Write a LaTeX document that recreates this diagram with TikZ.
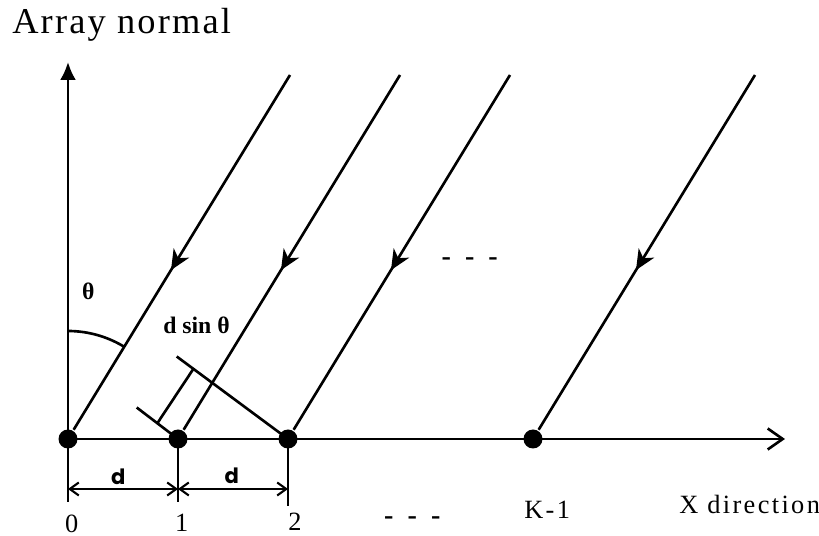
\documentclass[tikz,border=0pt]{standalone}
\usepackage{fontspec}
\setmainfont{Liberation Serif}
\newfontfamily\titlefont[LetterSpace=6]{Liberation Serif}
\newfontfamily\labfont[LetterSpace=9]{Liberation Serif}
\newfontfamily\dimfont{Poppins}
\usetikzlibrary{arrows.meta, calc, decorations.markings}
\tikzset{
  sensor/.style={circle, fill=black, inner sep=0pt, minimum size=3.8mm},
  wave/.style={postaction={decorate},
    decoration={markings,
      mark=at position 0.55 with {\arrow{Stealth[length=4mm, width=3.6mm, inset=1.2mm]}}}},
  lab/.style={font=\labfont\fontsize{15}{18}\selectfont, inner sep=0pt},
  blab/.style={font=\bfseries\fontsize{13.5}{16}\selectfont, inner sep=0pt},
  dlab/.style={font=\dimfont\bfseries\fontsize{12}{14}\selectfont, inner sep=0pt},
}

\begin{document}
\begin{tikzpicture}[x=0.02cm, y=-0.02cm, line width=1.5pt,
   dim/.style={{Straight Barb[length=1.8mm, width=2.6mm]}-{Straight Barb[length=1.8mm, width=2.6mm]}, line width=1.2pt},
   dots/.style={font=\bfseries\fontsize{16}{18}\selectfont, inner sep=0pt, anchor=base}]
  \useasboundingbox (0,0) rectangle (819,536);
  % sensors
  \node[sensor] (s0) at (68,439) {};
  \node[sensor] (s1) at (178,439) {};
  \node[sensor] (s2) at (288,439) {};
  \node[sensor] (sk) at (533,439) {};
  % axes and ticks
  \coordinate (ntop) at (68,62);
  \coordinate (xend) at (785,439);
  \coordinate (t0) at (68,502);
  \coordinate (t1) at (178,502);
  \coordinate (t2) at (288,506);
  \draw[-{Latex[length=3.6mm, width=3.2mm]}] (t0) -- (ntop);
  \draw[-{Straight Barb[length=3mm, width=4.2mm]}] (s0.center) -- (xend);
  \draw (s1.center) -- (t1);
  \draw (s2.center) -- (t2);
  % incoming rays
  \coordinate (r0) at (290,75);
  \coordinate (r1) at (400,75);
  \coordinate (r2) at (510,75);
  \coordinate (rk) at (755,75);
  \foreach \r/\s in {r0/s0, r1/s1, r2/s2, rk/sk}
    \draw[wave] (\r) -- (\s);
  % wavefronts and path difference
  \coordinate (w1) at (136.7,407.5);
  \coordinate (w2) at (176.7,356.5);
  \draw (w1) -- (s1.center);
  \draw (w2) -- (s2.center);
  \draw ($(s1)!0.5!(w1)$) -- ($(s2)!0.85!(w2)$);
  \draw ($(s0)+(0,-108)$) arc[start angle=-90, end angle=-58.7, radius=108];
  % spacing
  \coordinate (d0) at (68,489);
  \coordinate (d1) at (178,489);
  \coordinate (d2) at (288,489);
  \draw[dim] (d0) -- (d1);
  \draw[dim] (d1) -- (d2);
  \node[dlab] (dA) at (118.3,477) {d};
  \node[dlab] (dB) at (231.7,476) {d};
  % labels
  \node[anchor=base west, inner sep=0pt, font=\titlefont\fontsize{20.7}{24}\selectfont] (title) at (11,33.3) {Array normal};
  \node[blab] (theta) at (88.3,291.7) {θ};
  \node[blab] (dsin) at (196.5,325) {d sin θ};
  \node[lab, anchor=base] (n0) at (71.7,532.5) {0};
  \node[lab, anchor=base] (n1) at (181.7,531.5) {1};
  \node[lab, anchor=base] (n2) at (295,530.5) {2};
  \node[lab, anchor=base west] (nk) at (523,518.3) {K-1};
  \node[lab, anchor=base west] (xdir) at (678,513.3) {X direction};
  \node[dots] (dtop) at (469.7,265.3) {-\enspace-\enspace-};
  \node[dots] (dbot) at (412.3,525) {-\enspace-\enspace-};
\end{tikzpicture}
\end{document}
